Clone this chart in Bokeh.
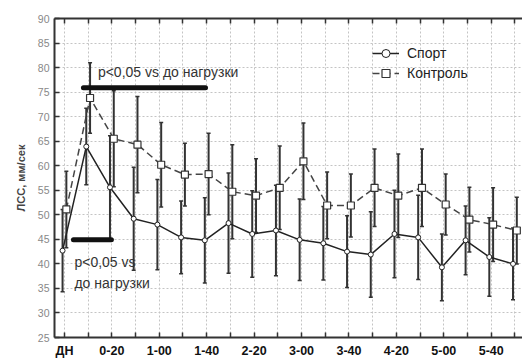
from bokeh.plotting import figure
from bokeh.models import (ColumnDataSource, FixedTicker, LinearAxis, Range1d, Label,
                          Legend, LegendItem, Whisker, TeeHead)
from bokeh.embed import file_html
from bokeh.resources import INLINE

times = ["ДН", "0-00", "0-20", "0-40", "1-00", "1-20", "1-40", "2-00", "2-20", "2-40",
         "3-00", "3-20", "3-40", "4-00", "4-20", "4-40", "5-00", "5-20", "5-40", "6-00"]
sport_mean = [42.7, 63.9, 55.6, 49.2, 48.0, 45.4, 44.8, 48.3, 46.1, 46.8,
              44.9, 44.2, 42.5, 41.9, 46.1, 45.4, 39.3, 44.8, 41.4, 40.0]
sport_sd = [8.4, 7.8, 10.5, 10.5, 9.2, 7.4, 8.7, 10.2, 8.8, 9.2,
            8.3, 7.5, 7.3, 8.7, 8.9, 8.6, 6.8, 7.0, 8.0, 7.3]
ctrl_mean = [51.1, 73.8, 65.5, 64.3, 60.2, 58.2, 58.3, 54.7, 53.9, 55.5,
             60.9, 51.9, 51.9, 55.5, 53.9, 55.5, 52.1, 49.0, 48.0, 46.8]
ctrl_sd = [7.8, 7.2, 9.8, 9.8, 8.6, 6.4, 8.3, 9.6, 7.5, 8.5,
           7.8, 6.8, 6.4, 7.9, 8.5, 7.9, 6.2, 6.6, 7.5, 6.8]
y_ticks = list(range(25, 95, 5))
series_names = ["Спорт", "Контроль"]
y_title = "ЛСС, мм/сек"
note = "p<0,05 vs до нагрузки"
note_a = "p<0,05 vs"
note_b = "до нагрузки"

idx = list(range(len(times)))
labeled = [i for i in idx if i % 2 == 0]
unlabeled = [i for i in idx if i % 2 == 1]
dodge = 0.08
s_src = ColumnDataSource(dict(
    x=[i - dodge for i in idx], y=sport_mean,
    lo=[m - s for m, s in zip(sport_mean, sport_sd)],
    hi=[m + s for m, s in zip(sport_mean, sport_sd)]))
c_src = ColumnDataSource(dict(
    x=[i + dodge for i in idx], y=ctrl_mean,
    lo=[m - s for m, s in zip(ctrl_mean, ctrl_sd)],
    hi=[m + s for m, s in zip(ctrl_mean, ctrl_sd)]))

p = figure(width=522, height=360, output_backend="svg", toolbar_location=None,
           x_range=Range1d(-0.42, 19.32), y_range=Range1d(25, 90),
           min_border_left=54, min_border_right=0, min_border_top=18, min_border_bottom=23)
p.outline_line_color = None
p.background_fill_color = "white"

tick_style = dict(major_tick_in=5, major_tick_out=0, minor_tick_in=5, minor_tick_out=0,
                  axis_line_color="#333333", axis_line_width=2,
                  major_tick_line_color="#333333", major_tick_line_width=1.5,
                  minor_tick_line_color="#333333", minor_tick_line_width=1.5)

# x axis: labels on even points, plain ticks on odd points
xt = FixedTicker(ticks=labeled, minor_ticks=unlabeled)
p.xaxis.ticker = xt
p.xaxis.major_label_overrides = {i: times[i] for i in labeled}
p.xaxis.major_label_text_font = "Liberation Sans"
p.xaxis.major_label_text_font_style = "bold"
p.xaxis.major_label_text_font_size = "12.5px"
p.xaxis.major_label_text_color = "#111111"
p.xaxis.major_label_standoff = 6
p.yaxis.ticker = FixedTicker(ticks=y_ticks)
p.yaxis.major_label_text_font = "Liberation Sans"
p.yaxis.major_label_text_font_size = "10.5px"
p.yaxis.major_label_text_color = "#888888"
p.yaxis.major_label_standoff = 5
p.yaxis.axis_label = y_title
p.yaxis.axis_label_text_font = "Liberation Sans"
p.yaxis.axis_label_text_font_style = "bold"
p.yaxis.axis_label_text_font_size = "11px"
p.yaxis.axis_label_standoff = 8
for ax in (p.xaxis[0], p.yaxis[0]):
    for k, v in tick_style.items():
        setattr(ax, k, v)
p.yaxis.minor_tick_line_color = None

top = LinearAxis(ticker=FixedTicker(ticks=[], minor_ticks=idx), **tick_style)
p.add_layout(top, "above")

for g in (p.xgrid[0], p.ygrid[0]):
    g.grid_line_color = "#c4c4c4"
    g.grid_line_dash = "2 2"
    g.grid_line_width = 1
p.xgrid.ticker = xt
p.xgrid.minor_grid_line_color = "#c4c4c4"
p.xgrid.minor_grid_line_dash = "2 2"
p.ygrid.ticker = FixedTicker(ticks=y_ticks)

# error bars (mean ± SD)
for src in (s_src, c_src):
    w = Whisker(source=src, base="x", lower="lo", upper="hi",
                line_color="#333333", line_width=2,
                upper_head=TeeHead(size=4, line_color="#333333", line_width=1.5),
                lower_head=TeeHead(size=4, line_color="#333333", line_width=1.5))
    p.add_layout(w)

s_line = p.line("x", "y", source=s_src, line_color="#222222", line_width=1.5)
c_line = p.line("x", "y", source=c_src, line_color="#444444", line_width=1.5, line_dash="7 4")
s_mark = p.scatter("x", "y", source=s_src, marker="circle", size=5,
                   fill_color="white", line_color="#222222", line_width=1)
c_mark = p.scatter("x", "y", source=c_src, marker="square", size=7,
                   fill_color="white", line_color="#333333", line_width=1.2)

# significance annotations
p.line([0.8, 5.95], [75.9, 75.9], line_color="#111111", line_width=5, line_cap="round")
p.line([0.38, 1.98], [44.9, 44.9], line_color="#111111", line_width=5, line_cap="round")
for txt, x, y in ((note, 1.41, 79.1), (note_a, 0.42, 40.3), (note_b, 0.42, 36.1)):
    p.add_layout(Label(x=x, y=y, text=txt, text_font="Liberation Sans", text_font_size="14px",
                       text_color="#333333", text_baseline="middle", text_align="left"))

legend = Legend(items=[LegendItem(label=series_names[0], renderers=[s_line, s_mark]),
                       LegendItem(label=series_names[1], renderers=[c_line, c_mark])],
                location=(318, 254), padding=0, margin=0, spacing=0,
                glyph_width=27, glyph_height=20, label_height=20, label_standoff=8,
                label_text_font="Liberation Sans", label_text_font_size="14px",
                label_text_color="#222222", border_line_color=None,
                background_fill_alpha=0)
p.add_layout(legend)

open("out.html", "w").write(file_html(p, INLINE))
